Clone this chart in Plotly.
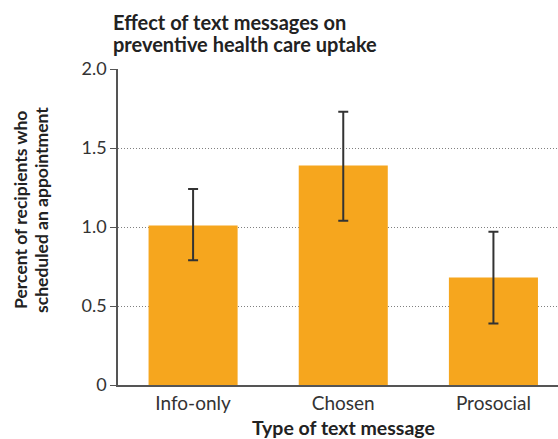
import plotly.graph_objects as go

categories = ["Info-only", "Chosen", "Prosocial"]
values = [1.01, 1.39, 0.68]
err_upper = [1.24, 1.73, 0.97]
err_lower = [0.79, 1.04, 0.39]
y_ticks = [0, 0.5, 1.0, 1.5, 2.0]
y_tick_labels = ["0", "0.5", "1.0", "1.5", "2.0"]

plus = [u - v for u, v in zip(err_upper, values)]
minus = [v - l for v, l in zip(values, err_lower)]

fig = go.Figure()
fig.add_trace(go.Bar(
    x=categories, y=values, width=0.593,
    marker=dict(color="#F6A61E", line=dict(width=0)),
    error_y=dict(type="data", symmetric=False, array=plus, arrayminus=minus,
                 color="#333333", thickness=2, width=5),
))

fig.update_layout(
    width=558, height=439,
    margin=dict(l=118, r=0, t=69, b=54),
    plot_bgcolor="white", paper_bgcolor="white",
    font=dict(family="Lato", color="#333333"),
    showlegend=False,
    xaxis=dict(range=[-0.5, 2.43], showline=True, linecolor="#555555", linewidth=1.5,
               ticks="", tickfont=dict(size=19, color="#333333"), showgrid=False,
               automargin=False),
    yaxis=dict(range=[0, 2.0], tickvals=y_ticks, ticktext=y_tick_labels,
               showline=True, linecolor="#555555", linewidth=1.5,
               ticks="outside", ticklen=6, tickcolor="#555555", tickwidth=1,
               tickfont=dict(size=18, color="#333333"),
               showgrid=True, gridcolor="#808080", griddash="1px,2px", gridwidth=1,
               zeroline=False, automargin=False),
    annotations=[
        dict(text="<b>Effect of text messages on</b>",
             xref="paper", yref="paper", x=0, xshift=-7, y=1.0, yshift=47,
             xanchor="left", yanchor="middle", showarrow=False,
             font=dict(size=20, color="#222222")),
        dict(text="<b>preventive health care uptake</b>",
             xref="paper", yref="paper", x=0, xshift=-7, y=1.0, yshift=25,
             xanchor="left", yanchor="middle", showarrow=False,
             font=dict(size=20, color="#222222")),
        dict(text="<b>Percent of recipients who</b>",
             xref="paper", yref="paper", x=0, xshift=-97, y=0.554,
             xanchor="center", yanchor="middle", textangle=-90, showarrow=False,
             font=dict(size=17.5, color="#222222")),
        dict(text="<b>scheduled an appointment</b>",
             xref="paper", yref="paper", x=0, xshift=-76, y=0.554,
             xanchor="center", yanchor="middle", textangle=-90, showarrow=False,
             font=dict(size=17.5, color="#222222")),
        dict(text="<b>Type of text message</b>",
             xref="paper", yref="paper", x=(343.5 - 118) / 440, y=0, yshift=-42,
             xanchor="center", yanchor="middle", showarrow=False,
             font=dict(size=19.5, color="#222222")),
    ],
)

fig.write_html("out.html", config={"displayModeBar": False},
               post_script="document.body.style.margin='0';document.body.style.padding='0';")
